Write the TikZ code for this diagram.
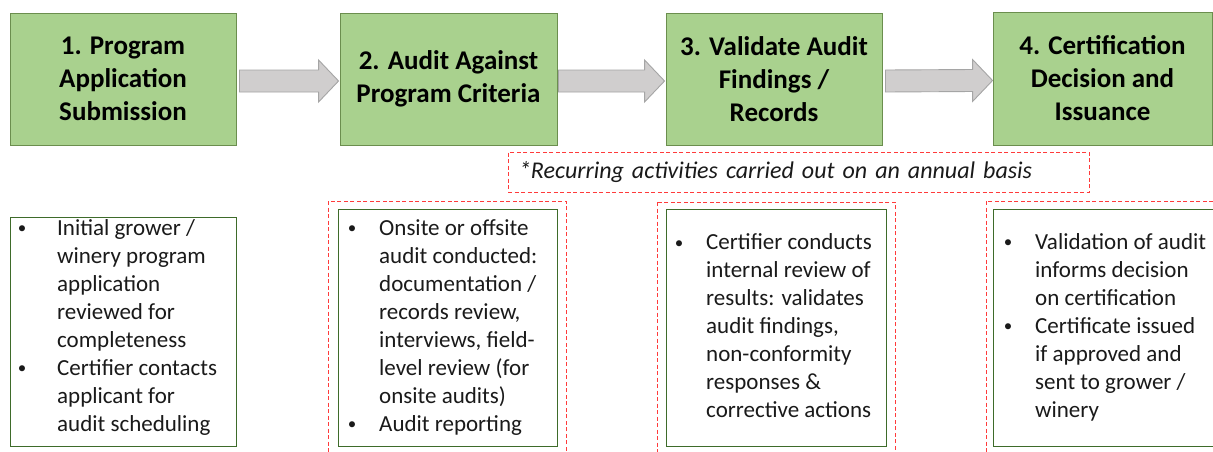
\documentclass[tikz,border=0pt]{standalone}
\usepackage{fontspec}
\setmainfont{Carlito}
\usetikzlibrary{calc}
\definecolor{boxgreen}{HTML}{A9D18E}
\definecolor{boxedge}{HTML}{6B8E4E}
\definecolor{darkedge}{HTML}{3E6B2A}
\definecolor{arrfill}{HTML}{D0CECE}
\definecolor{arredge}{HTML}{A5A5A5}
\definecolor{reddash}{HTML}{FF3B3B}
\definecolor{txt}{HTML}{1A1A1A}
\newcommand{\bl}[1][27pt]{\makebox[#1][l]{\makebox[0pt][c]{\raisebox{1.5pt}{\fontsize{17}{17}\selectfont\textbullet}}}}
\newcommand{\bigarr}[2]{\draw[bigarrow] ($(#1)+(0,-11)$) -- ($(#2)+(-20,-11)$) -- ($(#2)+(-20,-21)$) -- (#2) -- ($(#2)+(-20,21)$) -- ($(#2)+(-20,11)$) -- ($(#1)+(0,11)$) -- cycle;}
\begin{document}
\begin{tikzpicture}[x=1pt,y=-1pt,
 topbox/.style={draw=boxedge, fill=boxgreen, line width=0.9pt, align=center, inner sep=0pt, text=black, font=\fontsize{27}{33}\selectfont\bfseries},
 listbox/.style={draw=darkedge, line width=0.9pt, inner sep=0pt},
 listtext/.style={anchor=west, inner sep=0pt, text=txt, font=\fontsize{23}{28}\selectfont},
 redframe/.style={draw=reddash, dash pattern=on 4pt off 2.5pt, line width=1pt},
 notebox/.style={draw=reddash, dash pattern=on 4pt off 2.5pt, line width=1pt, inner xsep=11pt, inner ysep=0pt, text width=559pt, align=left, text=txt, font=\fontsize{24}{28}\selectfont\itshape},
 bigarrow/.style={draw=arredge, fill=arrfill, line width=0.9pt}
]
\useasboundingbox (0,0) rectangle (1213,451);
\clip (0,0) rectangle (1213,451);
\fill[white] (0,0) rectangle (1213,451);

% top step boxes
\node[topbox, minimum width=226pt, minimum height=132pt] (t1) at (123,79) {1. Program\\Application\\Submission};
\node[topbox, minimum width=217pt, minimum height=132pt] (t2) at (448.5,79) {2. Audit Against\\Program Criteria};
\node[topbox, minimum width=216pt, minimum height=132pt] (t3) at (774,79) {3. Validate Audit\\Findings /\\Records};
\node[topbox, minimum width=219pt, minimum height=133pt] (t4) at (1102.5,78.5) {4. Certification\\Decision and\\Issuance};

% arrows
\coordinate (a1s) at ($(t1.east)+(3,2)$);
\coordinate (a1e) at ($(t2.west)+(-1,2)$);
\coordinate (a2s) at ($(t2.east)+(1,2)$);
\coordinate (a2e) at ($(t3.west)+(-1,2)$);
\coordinate (a3s) at ($(t3.east)+(3,2)$);
\coordinate (a3e) at ($(t4.west)+(0,2)$);
\bigarr{a1s}{a1e}
\bigarr{a2s}{a2e}
\bigarr{a3s}{a3e}

% note
\node[notebox, minimum width=581pt, minimum height=40pt] (note) at (798.5,172) {*Recurring activities carried out on an annual basis};

% dashed frames
\draw[redframe] (328,201) rectangle (566,470);
\draw[redframe] (657,202) rectangle (895,470);
\draw[redframe] (986,201) rectangle (1240,470);

% bottom list boxes
\node[listbox, minimum width=226pt, minimum height=229pt] (b1) at (123,331.5) {};
\node[listbox, minimum width=219pt, minimum height=237pt] (b2) at (447.5,327.5) {};
\node[listbox, minimum width=220pt, minimum height=237pt] (b3) at (776,327.5) {};
\node[listbox, minimum width=237pt, minimum height=237pt] (b4) at (1111.5,327.5) {};

\node[listtext] (l1) at (22,327.5) {\begin{tabular}{@{}l@{}l@{}}
\bl[35pt] & Initial grower /\\
 & winery program\\
 & application\\
 & reviewed for\\
 & completeness\\
\bl[35pt] & Certifier contacts\\
 & applicant for\\
 & audit scheduling
\end{tabular}};
\node[listtext] (l2) at (352,327.5) {\begin{tabular}{@{}l@{}l@{}}
\bl & Onsite or offsite\\
 & audit conducted:\\
 & documentation /\\
 & records review,\\
 & interviews, field-\\
 & level review (for\\
 & onsite audits)\\
\bl & Audit reporting
\end{tabular}};
\node[listtext] (l3) at (679,328) {\begin{tabular}{@{}l@{}l@{}}
\bl & Certifier conducts\\
 & internal review of\\
 & results: validates\\
 & audit findings,\\
 & non-conformity\\
 & responses \&\\
 & corrective actions
\end{tabular}};
\node[listtext] (l4) at (1008,327.5) {\begin{tabular}{@{}l@{}l@{}}
\bl & Validation of audit\\
 & informs decision\\
 & on certification\\
\bl & Certificate issued\\
 & if approved and\\
 & sent to grower /\\
 & winery
\end{tabular}};
\end{tikzpicture}
\end{document}
